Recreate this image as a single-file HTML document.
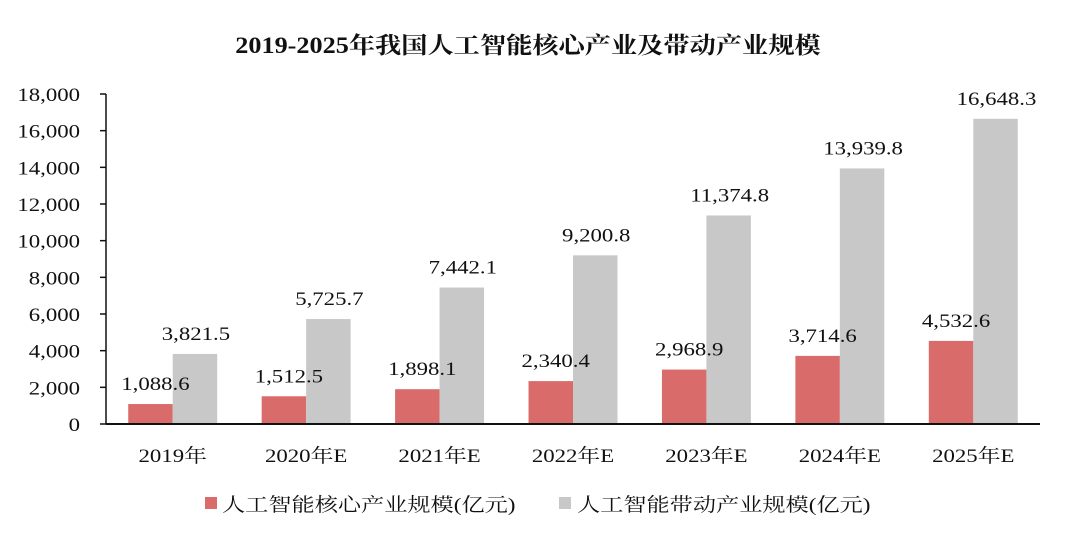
<!DOCTYPE html>
<html><head><meta charset="utf-8"><style>
body{margin:0;background:#fff;}
svg text{font-family:"Liberation Serif","Noto Serif CJK SC",serif;transform-box:fill-box;}
.sc{transform-origin:center;transform:scaleX(1.2);}
.st{transform-origin:center;transform:scaleX(1.14);}
.scr{transform-origin:right;transform:scaleX(1.2);}
.scl{transform-origin:left;transform:scaleX(1.22);}
</style></head><body>
<svg id="c" width="1080" height="546" xmlns="http://www.w3.org/2000/svg">
<text class="st" x="528" y="53" text-anchor="middle" font-size="23" font-weight="bold" fill="#111">2019-2025年我国人工智能核心产业及带动产业规模</text>
<g id="plot"></g>
<g>
<rect x="205" y="497" width="12" height="12" fill="#d96b6b"/>
<text class="scl" x="222" y="511" font-size="19" fill="#111" font-family="Liberation Sans, Noto Sans CJK SC, sans-serif">人工智能核心产业规模(亿元)</text>
<rect x="559" y="497" width="12" height="12" fill="#c8c8c8"/>
<text class="scl" x="577" y="511" font-size="19" fill="#111" font-family="Liberation Sans, Noto Sans CJK SC, sans-serif">人工智能带动产业规模(亿元)</text>
</g>
</svg>
<script>
const categories=["2019年","2020年E","2021年E","2022年E","2023年E","2024年E","2025年E"];
const coreValues=[1088.6,1512.5,1898.1,2340.4,2968.9,3714.6,4532.6];
const drivenValues=[3821.5,5725.7,7442.1,9200.8,11374.8,13939.8,16648.3];
const yTicks=[0,2000,4000,6000,8000,10000,12000,14000,16000,18000];
const NS="http://www.w3.org/2000/svg";
const g=document.getElementById('plot');
const x0=106,x1=1040,y0=424,y1=94,yMax=18000;
const gw=(x1-x0)/categories.length,bw=gw/3;
const y=v=>y0-(v/yMax)*(y0-y1);
const xc=i=>x0+gw*(i+0.5);
function el(t,a){const e=document.createElementNS(NS,t);for(const k in a)e.setAttribute(k,a[k]);g.appendChild(e);return e;}
const fmt=v=>v.toLocaleString('en-US',{minimumFractionDigits:v%1?1:0,maximumFractionDigits:1});
yTicks.forEach(t=>{
 const l=el('line',{x1:x0-6,x2:x0,y1:y(t),y2:y(t),stroke:'#111','stroke-width':1.5});
 
 
 const tx=el('text',{x:x0-26,y:y(t)+7,'text-anchor':'end','font-size':19,fill:'#111','class':'scr'});
 tx.textContent=fmt(t);
 
 
});
categories.forEach((c,i)=>{
 const r=el('rect',{x:xc(i)-bw,y:y(coreValues[i]),width:bw,height:y0-y(coreValues[i]),fill:'#d96b6b'});
 
 
 const b=el('rect',{x:xc(i),y:y(drivenValues[i]),width:bw,height:y0-y(drivenValues[i]),fill:'#c8c8c8'});
 
 
 const t1=el('text',{x:xc(i)-bw/2+5,y:y(coreValues[i])-14,'text-anchor':'middle','font-size':19,fill:'#111','class':'sc'});
 t1.textContent=fmt(coreValues[i]);
 
 
 const t2=el('text',{x:xc(i)+bw/2+1,y:y(drivenValues[i])-14,'text-anchor':'middle','font-size':19,fill:'#111','class':'sc'});
 t2.textContent=fmt(drivenValues[i]);
 
 
 const cl=el('text',{x:xc(i),y:y0+38,'text-anchor':'middle','font-size':19,fill:'#111','class':'sc'});
 cl.textContent=c;
 
 
});
const ya=el('line',{x1:x0,x2:x0,y1:y1,y2:y0,stroke:'#111','stroke-width':1.5});


const xa=el('line',{x1:x0,x2:x1,y1:y0,y2:y0,stroke:'#111','stroke-width':2});


</script>
</body></html>
